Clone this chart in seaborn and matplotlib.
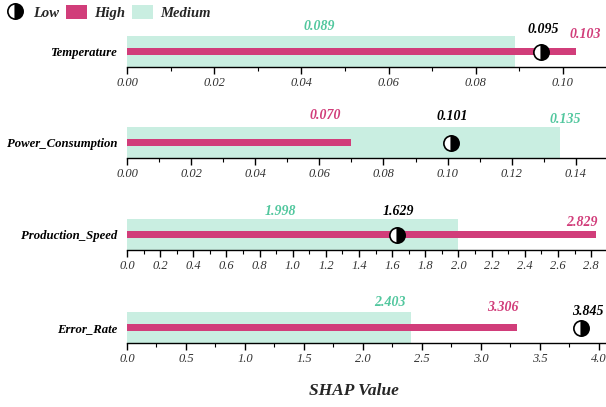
import matplotlib
matplotlib.use("Agg")
import matplotlib.pyplot as plt
import seaborn as sns
import numpy as np
from matplotlib.ticker import MultipleLocator
from matplotlib.lines import Line2D
from matplotlib.patches import Patch

# ---- data ----
features = ["Temperature", "Power_Consumption", "Production_Speed", "Error_Rate"]
medium_vals = [0.089, 0.135, 1.998, 2.403]
high_vals = [0.103, 0.070, 2.829, 3.306]
low_vals = [0.095, 0.101, 1.629, 3.845]
value_labels_medium = ["0.089", "0.135", "1.998", "2.403"]
value_labels_high = ["0.103", "0.070", "2.829", "3.306"]
value_labels_low = ["0.095", "0.101", "1.629", "3.845"]

# ---- style ----
C_MED = "#c9eee1"
C_HIGH = "#d13d7a"
C_MED_TXT = "#52c79e"
x_max = [0.1099, 0.1494, 2.89, 4.06]
major_step = [0.02, 0.02, 0.2, 0.5]
minor_step = [0.01, 0.01, 0.1, 0.25]
# label offsets in pixels (dx, dy) for medium, high, low
off_med = [(-196, 25), (5, 23), (-178, 23), (-21, 25)]
off_high = [(9, 17), (-26, 27), (-14, 12), (-14, 20)]
off_low = [(2, 22), (1, 26), (1, 23), (7, 16)]
spine_px = [67, 158, 250, 343]
W, H = 606, 407

sns.set_theme(style="white")
plt.rcParams["font.family"] = ["Liberation Serif", "DejaVu Serif"]
plt.rcParams["font.style"] = "italic"

fig = plt.figure(figsize=(W / 100, H / 100), dpi=100)

for i, feat in enumerate(features):
    ax_h = 31 / H
    ax = fig.add_axes([127 / W, (H - spine_px[i]) / H, 1 - 127 / W, ax_h])
    sns.barplot(x=[medium_vals[i]], y=[feat], orient="h", color=C_MED,
                width=1.0, saturation=1, ax=ax, linewidth=0)
    sns.barplot(x=[high_vals[i]], y=[feat], orient="h", color=C_HIGH,
                width=0.23, saturation=1, ax=ax, linewidth=0)
    ax.plot([low_vals[i]], [0], marker="o", markersize=11, fillstyle="left",
            markerfacecolor="white", markerfacecoloralt="black",
            markeredgecolor="black", markeredgewidth=1.2, linestyle="none",
            zorder=5, clip_on=False)
    ax.set_xlim(0, x_max[i])
    ax.set_ylim(0.5, -0.5)
    ax.xaxis.set_major_locator(MultipleLocator(major_step[i]))
    ax.xaxis.set_minor_locator(MultipleLocator(minor_step[i]))
    for s in ["top", "right", "left"]:
        ax.spines[s].set_visible(False)
    ax.spines["bottom"].set_color("black")
    ax.spines["bottom"].set_linewidth(1.0)
    ax.tick_params(axis="x", which="major", direction="out", length=5, width=1,
                   color="black", bottom=True, labelsize=9, labelcolor="#333333", pad=2)
    ax.tick_params(axis="x", which="minor", direction="out", length=3, width=0.8,
                   color="black", bottom=True)
    ax.tick_params(axis="y", length=0, pad=7)
    for lab in ax.get_yticklabels():
        lab.set_fontweight("bold")
        lab.set_fontstyle("italic")
        lab.set_fontsize(9.2)
        lab.set_color("black")
    for lab in ax.get_xticklabels():
        lab.set_fontstyle("italic")
    ax.set_xlabel("")
    ax.set_ylabel("")
    ax.grid(False)

    kw = dict(textcoords="offset pixels", ha="center", va="center",
              fontsize=10, fontweight="bold", fontstyle="italic",
              annotation_clip=False)
    ax.annotate(value_labels_medium[i], xy=(medium_vals[i], 0), xytext=off_med[i],
                color=C_MED_TXT, **kw)
    ax.annotate(value_labels_high[i], xy=(high_vals[i], 0), xytext=off_high[i],
                color=C_HIGH, **kw)
    ax.annotate(value_labels_low[i], xy=(low_vals[i], 0), xytext=off_low[i],
                color="black", **kw)

fig.text(354 / W, 1 - 391 / H, "SHAP Value", ha="center", va="center",
         fontsize=12.5, fontweight="bold", fontstyle="italic")

handles = [
    Line2D([0], [0], marker="o", markersize=11, fillstyle="left",
           markerfacecolor="white", markerfacecoloralt="black",
           markeredgecolor="black", markeredgewidth=1.2, linestyle="none"),
    Patch(facecolor=C_HIGH, edgecolor="none"),
    Patch(facecolor=C_MED, edgecolor="none"),
]
fig.legend(handles, ["Low", "High", "Medium"], loc="upper left",
           bbox_to_anchor=(0.0, 1.0), ncol=3, frameon=False,
           prop=dict(family="Liberation Serif", weight="bold", style="italic", size=10.5),
           handlelength=1.4, handleheight=1.1, handletextpad=0.5,
           columnspacing=0.5, borderaxespad=0.2, borderpad=0.15)

fig.savefig("out.png", dpi=100)
